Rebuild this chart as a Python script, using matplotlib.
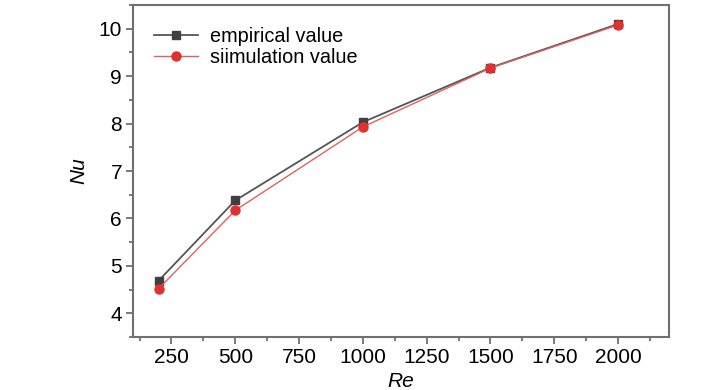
import matplotlib
matplotlib.use("Agg")
import matplotlib.pyplot as plt
from matplotlib.ticker import MultipleLocator

plt.rcParams['font.family'] = ['Liberation Sans', 'DejaVu Sans']

re_vals = [200, 500, 1000, 1500, 2000]
nu_empirical = [4.69, 6.38, 8.03, 9.18, 10.10]
nu_simulation = [4.52, 6.17, 7.93, 9.17, 10.08]
x_ticks = [250, 500, 750, 1000, 1250, 1500, 1750, 2000]
y_ticks = [4, 5, 6, 7, 8, 9, 10]

fig = plt.figure(figsize=(7.28, 3.9), dpi=100)
ax = fig.add_axes([0.183, 0.136, 0.736, 0.851])

ax.plot(re_vals, nu_empirical, color='#555555', lw=1.3, marker='s', ms=6,
        mfc='#404040', mec='#404040', label='empirical value', zorder=3)
ax.plot(re_vals, nu_simulation, color='#e06060', lw=1.0, marker='o', ms=6.5,
        mfc='#e03030', mec='#e03030', label='siimulation value', zorder=4)

ax.set_xlim(100, 2200)
ax.set_ylim(3.5, 10.5)
ax.set_xticks(x_ticks)
ax.set_yticks(y_ticks)
ax.xaxis.set_minor_locator(MultipleLocator(125))
ax.yaxis.set_minor_locator(MultipleLocator(0.5))

for s in ax.spines.values():
    s.set_color('#707070')
    s.set_linewidth(1.5)
ax.tick_params(which='both', direction='out', color='#707070', width=1.3)
ax.tick_params(which='major', length=5, pad=3, labelsize=15)
ax.tick_params(which='minor', length=3)

ax.set_xlabel('Re', fontsize=15, style='italic')
ax.set_ylabel('Nu', fontsize=15, style='italic')
ax.xaxis.set_label_coords(0.5, -0.105)
ax.yaxis.set_label_coords(-0.084, 0.5)

ax.legend(loc='upper left', frameon=False, fontsize=14.3, handlelength=2.2,
          borderaxespad=0.4, labelspacing=0.1, handletextpad=0.6,
          bbox_to_anchor=(0.009, 0.981))

fig.savefig('out.png', dpi=100)
